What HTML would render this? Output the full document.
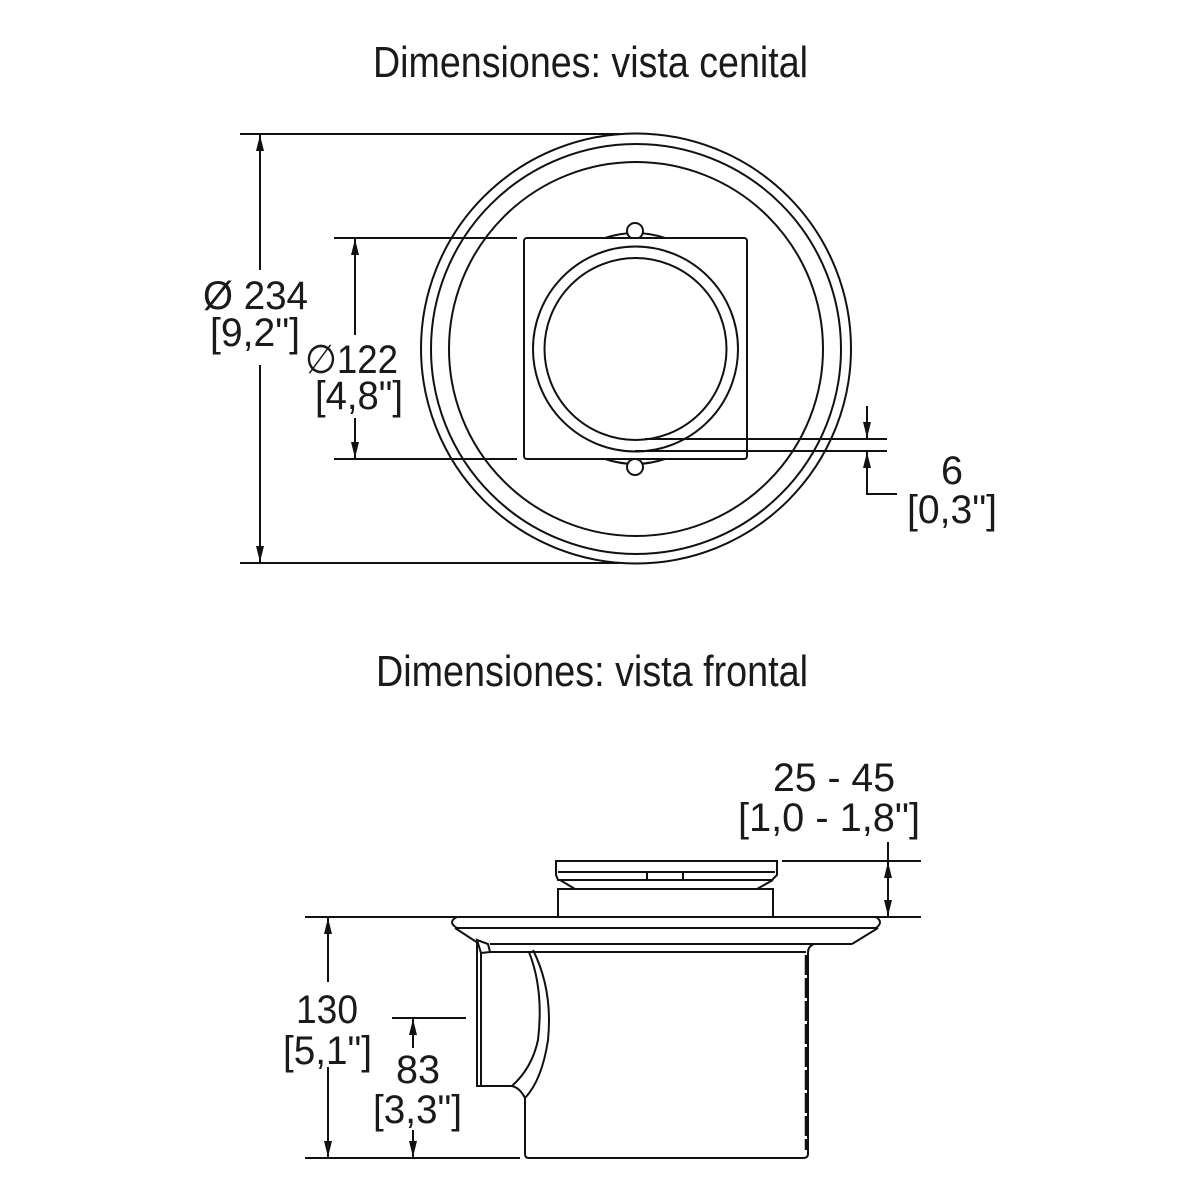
<!DOCTYPE html>
<html><head><meta charset="utf-8"><style>
html,body{margin:0;padding:0;background:#fff;}
svg{display:block;}
text{font-family:"Liberation Sans",Arial,sans-serif;fill:#1a1a1a;}
</style></head><body>
<svg width="1200" height="1200" viewBox="0 0 1200 1200" xmlns="http://www.w3.org/2000/svg">
<g fill="none" stroke="#111" stroke-width="2">
<circle cx="636" cy="348.5" r="215"/>
<circle cx="636" cy="349" r="205"/>
<circle cx="636" cy="349" r="187"/>
<path d="M530,300 Q518,348 530,398"/>
<path d="M741,300 Q753,348 741,398"/>
<path d="M605,238 Q635,228 665,238"/>
<path d="M605,459 Q635,469 665,459"/>
<circle cx="635" cy="231" r="8" fill="#fff"/>
<circle cx="635" cy="467" r="8" fill="#fff"/>
<rect x="524" y="238" width="223" height="221" rx="3" fill="#fff"/>
<circle cx="635.5" cy="349" r="102.5"/>
<circle cx="635.5" cy="349" r="91"/>
<line x1="240" y1="134" x2="620" y2="134"/>
<line x1="240" y1="563" x2="620" y2="563"/>
<line x1="260" y1="270" x2="260" y2="135"/>
<line x1="260" y1="365" x2="260" y2="562"/>
<line x1="334" y1="238" x2="517" y2="238"/>
<line x1="334" y1="459" x2="517" y2="459"/>
<line x1="355" y1="335" x2="355" y2="239"/>
<line x1="355" y1="418" x2="355" y2="458"/>
<line x1="645" y1="439" x2="887" y2="439"/>
<line x1="635" y1="451" x2="887" y2="451"/>
<line x1="867" y1="406" x2="867" y2="438"/>
<polyline points="897,494 867,494 867,452"/>
<path d="M556,861 H777 V875 L772,880 L558,880 L556,875 Z"/>
<line x1="558" y1="872" x2="775" y2="872"/>
<line x1="647" y1="872" x2="647" y2="880"/>
<line x1="683" y1="872" x2="683" y2="880"/>
<path d="M560,880 L575,889 M773,880 L757,889"/>
<rect x="558" y="889" width="215" height="28"/>
<path d="M457,917 H876 Q884,922 876,928 H457 Q447,922 457,917 Z" fill="#fff"/>
<path d="M455,928 L478,943 M878,928 L852,944"/>
<line x1="490" y1="944" x2="852" y2="944"/>
<line x1="490" y1="952" x2="806" y2="952"/>
<path d="M477,940 L488,944 L490,952 L481,953 Z"/>
<path d="M477,940 V1086 H512 Q520,1088 525,1098 V1154 Q525,1158 529,1158 H803 Q808,1158 808,1154 V953 Q808,946 814,944"/>
<line x1="481" y1="953" x2="481" y2="1086"/>
<path d="M529,952 Q544,990 538,1040 Q532,1068 512,1086"/>
<path d="M533,950 Q553,990 548,1040 Q542,1080 525,1098"/>
<line x1="806" y1="955" x2="806" y2="1150" stroke-width="2.5" stroke-dasharray="20,3"/>
<line x1="782" y1="861" x2="921" y2="861"/>
<line x1="850" y1="917" x2="921" y2="917"/>
<line x1="888" y1="842" x2="888" y2="916"/>
<line x1="305" y1="917" x2="468" y2="917"/>
<line x1="305" y1="1158" x2="520" y2="1158"/>
<line x1="328" y1="982" x2="328" y2="918"/>
<line x1="328" y1="1067" x2="328" y2="1157"/>
<line x1="392" y1="1018" x2="466" y2="1018"/>
<line x1="413" y1="1048" x2="413" y2="1019"/>
<line x1="413" y1="1130" x2="413" y2="1157"/>
</g>
<g fill="#111">
<path d="M260,135 l-4,16 h8 Z"/>
<path d="M260,562 l-4,-16 h8 Z"/>
<path d="M355,239 l-4,16 h8 Z"/>
<path d="M355,458 l-4,-16 h8 Z"/>
<path d="M867,438 l-4,-16 h8 Z"/>
<path d="M867,452 l-4,16 h8 Z"/>
<path d="M888,862 l-4,16 h8 Z"/>
<path d="M888,916 l-4,-16 h8 Z"/>
<path d="M328,918 l-4,16 h8 Z"/>
<path d="M328,1157 l-4,-16 h8 Z"/>
<path d="M413,1019 l-4,16 h8 Z"/>
<path d="M413,1157 l-4,-16 h8 Z"/>
</g>
<text x="373" y="77" font-size="44" textLength="435" lengthAdjust="spacingAndGlyphs">Dimensiones: vista cenital</text>
<text x="376" y="686" font-size="44" textLength="432" lengthAdjust="spacingAndGlyphs">Dimensiones: vista frontal</text>
<g font-size="40">
<text x="203" y="309" textLength="105" lengthAdjust="spacingAndGlyphs">Ø 234</text>
<text x="210" y="346" textLength="90" lengthAdjust="spacingAndGlyphs">[9,2"]</text>
<text x="305" y="373" textLength="93" lengthAdjust="spacingAndGlyphs">∅122</text>
<text x="315" y="409" textLength="88" lengthAdjust="spacingAndGlyphs">[4,8"]</text>
<text x="941" y="484" textLength="22" lengthAdjust="spacingAndGlyphs">6</text>
<text x="907" y="523" textLength="90" lengthAdjust="spacingAndGlyphs">[0,3"]</text>
<text x="773" y="791" textLength="122" lengthAdjust="spacingAndGlyphs">25 - 45</text>
<text x="738" y="831" textLength="182" lengthAdjust="spacingAndGlyphs">[1,0 - 1,8"]</text>
<text x="296" y="1023" textLength="62" lengthAdjust="spacingAndGlyphs">130</text>
<text x="283" y="1064" textLength="89" lengthAdjust="spacingAndGlyphs">[5,1"]</text>
<text x="396" y="1083" textLength="44" lengthAdjust="spacingAndGlyphs">83</text>
<text x="373" y="1123" textLength="89" lengthAdjust="spacingAndGlyphs">[3,3"]</text>
</g>
</svg>
</body></html>
